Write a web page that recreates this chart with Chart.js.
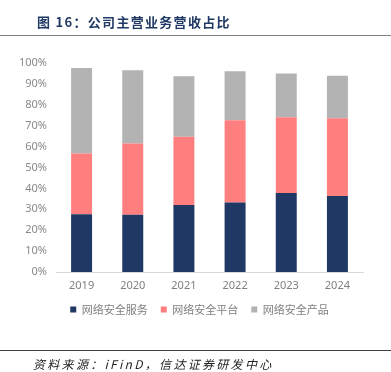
<!DOCTYPE html>
<html>
<head>
<meta charset="utf-8">
<script src="https://cdn.jsdelivr.net/npm/chart.js@4.4.1/dist/chart.umd.min.js"></script>
<style>
  html, body { margin: 0; padding: 0; background: #fff; }
  #wrap { position: relative; width: 391px; height: 372px; overflow: hidden; }
  #title { position: absolute; left: 37px; top: 12px; font: bold 13px "Noto Sans CJK SC", sans-serif; color: #1f3864; letter-spacing: 1.3px; }
  #topline { position: absolute; left: 0; top: 35px; width: 391px; height: 1px; background: #7f7f7f; }
  #botline { position: absolute; left: 0; top: 350px; width: 391px; height: 1px; background: #404040; }
  #source { position: absolute; left: 33px; top: 355px; font: italic 12px "Noto Sans CJK SC", sans-serif; color: #222; letter-spacing: 2.3px; }
  canvas { position: absolute; left: 0; top: 0; }
</style>
</head>
<body>
<div id="wrap">
  <canvas id="chart" width="391" height="372"></canvas>
  <div id="title">图 16：公司主营业务营收占比</div>
  <div id="topline"></div>
  <div id="botline"></div>
  <div id="source">资料来源：iFinD，信达证券研发中心</div>
</div>
<script>
// years on the x axis
const years = ["2019", "2020", "2021", "2022", "2023", "2024"];

// share of revenue, in %
const serviceShare = [27.6, 27.4, 32.1, 33.2, 37.8, 36.4];
const platformShare = [29.1, 34.1, 32.6, 39.4, 36.2, 37.2];
const productShare = [40.9, 35.0, 29.0, 23.4, 21.0, 20.3];

const seriesNames = ["网络安全服务", "网络安全平台", "网络安全产品"];

const ctx = document.getElementById("chart").getContext("2d");

new Chart(ctx, {
  type: "bar",
  data: {
    labels: years,
    datasets: [
      { label: seriesNames[0], data: serviceShare, backgroundColor: "#1f3864" },
      { label: seriesNames[1], data: platformShare, backgroundColor: "#ff7f7f" },
      { label: seriesNames[2], data: productShare, backgroundColor: "#b3b3b3" },
    ],
  },
  options: {
    responsive: false,
    animation: false,
    datasets: {
      bar: { categoryPercentage: 1, barPercentage: 0.41 },
    },
    layout: { padding: { left: 8, right: 0, top: 63, bottom: 47 } },
    plugins: {
      legend: {
        position: "bottom",
        labels: {
          usePointStyle: true,
          pointStyle: "rect",
          boxWidth: 6,
          boxHeight: 6,
          padding: 13,
          color: "#7f7f7f",
          font: { family: "'Noto Sans CJK SC', sans-serif", size: 11 },
        },
      },
      tooltip: { enabled: false },
    },
    scales: {
      x: {
        stacked: true,
        grid: { display: false },
        border: { color: "#d9d9d9" },
        ticks: {
          padding: 0,
          color: "#7f7f7f",
          font: { family: "'Noto Sans', sans-serif", size: 11, lineHeight: 1 },
        },
      },
      y: {
        stacked: true,
        min: 0,
        max: 100,
        grid: { display: false },
        border: { display: false },
        afterFit: (scale) => { scale.width = 48; },
        ticks: {
          stepSize: 10,
          color: "#898989",
          padding: 1,
          font: { family: "'Noto Sans', sans-serif", size: 11 },
          callback: (v) => v + "%",
        },
      },
      // empty right-hand spacer so the legend centres like the original
      spacer: {
        type: "linear",
        position: "right",
        grid: { display: false },
        border: { display: false },
        ticks: { display: false },
        afterFit: (scale) => { scale.width = 28; },
      },
    },
  },
});
</script>
</body>
</html>
